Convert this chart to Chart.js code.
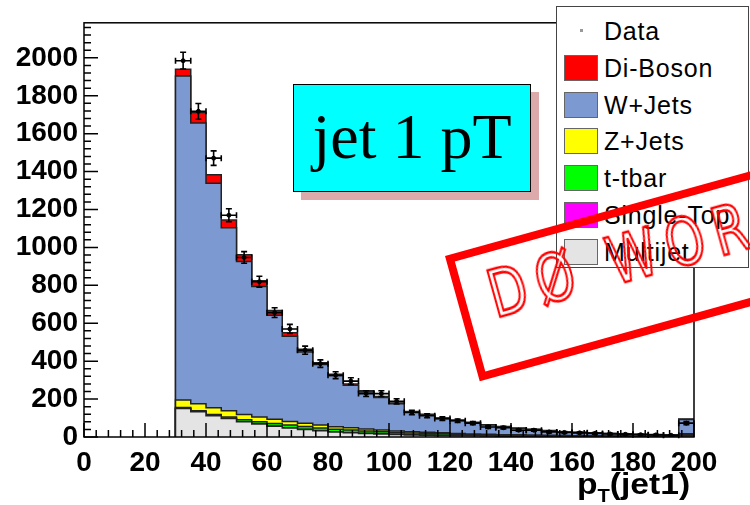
<!DOCTYPE html>
<html>
<head>
<meta charset="utf-8">
<script src="https://cdn.jsdelivr.net/npm/chart.js@4.4.1/dist/chart.umd.min.js"></script>
<style>
    html, body { margin: 0; padding: 0; background: #fff; }
    #wrap { position: relative; width: 750px; height: 505px; overflow: hidden; font-family: "Liberation Sans", Arial, sans-serif; }
    #ptChart { position: absolute; left: 0; top: 0; }
    #titleShadow { position: absolute; left: 301px; top: 92px; width: 238px; height: 108px; background: #dcaaaa; }
    #titleBox { position: absolute; left: 293px; top: 84px; width: 238px; height: 108px; box-sizing: border-box;
        background: #00ffff; border: 1px solid #000; font-family: "Liberation Serif", "Times New Roman", serif;
        font-size: 64px; line-height: 104px; text-align: center; color: #000; }
    #legend { position: absolute; left: 556px; top: 6px; width: 193px; height: 262px; box-sizing: border-box;
        background: #fff; border: 1px solid #444; }
    .row { position: absolute; left: 0; height: 28px; width: 100%; }
    .swatch { position: absolute; left: 7px; top: 1px; width: 34px; height: 26px; box-sizing: border-box; border: 1px solid #666; }
    .dot { position: absolute; left: 23px; top: 12px; width: 3px; height: 3px; background: #999; }
    .name { position: absolute; left: 47px; top: 0; font-size: 25px; line-height: 28px; color: #000; letter-spacing: 0.8px; }
    #xTitle { position: absolute; left: 577px; top: 467px; font-size: 30px; font-weight: bold; color: #000; white-space: nowrap;
        transform-origin: 0 0; transform: scaleX(1.12); }
    #xTitle sub { font-size: 18px; vertical-align: -8px; }
    #stamp { position: absolute; left: 445px; top: 256px; width: 430px; height: 130px; box-sizing: border-box;
        border: 8px solid #f00; transform-origin: 0 0; transform: rotate(-15.5deg); }
    #stamp span { position: absolute; left: 24px; top: 14px; font-family: "DejaVu Sans", sans-serif; font-size: 50px;
        color: transparent; -webkit-text-stroke: 2px #f00; letter-spacing: 10px; white-space: nowrap;
        transform-origin: 0 50%; transform: scaleY(1.3); }
</style>
</head>
<body>
<div id="wrap">
    <canvas id="ptChart" width="750" height="505"></canvas>
    <div id="titleShadow"></div>
    <div id="titleBox">jet 1 pT</div>
    <div id="legend"></div>
    <div id="xTitle">p<sub>T</sub>(jet1)</div>
    <div id="stamp"><span>DØ WORK</span></div>
</div>
<script>
// Lower edges of the 5 GeV bins; the last bin holds the overflow
const binLow = [30, 35, 40, 45, 50, 55, 60, 65, 70, 75, 80, 85, 90, 95, 100, 105, 110, 115,
                120, 125, 130, 135, 140, 145, 150, 155, 160, 165, 170, 175, 180, 185, 190, 195];
const binWidth = 5;

// Expected events per bin, one array per background
const multijet  = [150, 133, 112, 97, 80, 68, 57, 48, 40, 33, 27, 23, 19, 16, 13, 11, 9, 8,
                   7, 6, 5, 4, 4, 3, 3, 3, 2, 2, 2, 2, 1, 1, 1, 5];
const singleTop = [1, 1, 1, 1, 1, 1, 1, 1, 1, 1, 1, 1, 1, 1, 1, 1, 1, 1,
                   0, 0, 0, 0, 0, 0, 0, 0, 0, 0, 0, 0, 0, 0, 0, 1];
const ttbar     = [4, 5, 6, 8, 10, 12, 13, 14, 14, 14, 13, 13, 12, 11, 10, 9, 9, 8,
                   7, 6, 6, 5, 5, 4, 4, 3, 3, 3, 2, 2, 2, 2, 1, 8];
const zJets     = [40, 37, 35, 32, 28, 25, 22, 19, 17, 15, 13, 12, 10, 9, 8, 7, 6, 5,
                   5, 4, 4, 3, 3, 3, 2, 2, 2, 2, 1, 1, 1, 1, 1, 3];
const wJets     = [1709, 1481, 1184, 966, 807, 688, 549, 450, 376, 319, 269, 224, 196, 172, 143, 103, 91, 75,
                   68, 59, 48, 42, 33, 29, 24, 18, 17, 14, 13, 11, 10, 8, 7, 75];
const diBoson   = [36, 55, 46, 41, 36, 30, 25, 18, 15, 10, 8, 7, 6, 5, 5, 4, 4, 3,
                   3, 3, 2, 2, 2, 2, 1, 1, 1, 1, 1, 1, 1, 1, 1, 3];

// Observed events per bin
const dataCounts = [1985, 1718, 1471, 1170, 947, 819, 656, 570, 458, 387, 326, 295, 229, 229, 188, 129, 112, 97,
                    86, 73, 53, 49, 36, 36, 27, 24, 22, 19, 16, 14, 12, 11, 9, 73];

const yTicks = [0, 200, 400, 600, 800, 1000, 1200, 1400, 1600, 1800, 2000];

// Stack order, bottom to top
const layers = [
    { name: 'Multijet',   color: '#e4e4e4', values: multijet },
    { name: 'Single-Top', color: '#ff00ff', values: singleTop },
    { name: 't-tbar',     color: '#00ff00', values: ttbar },
    { name: 'Z+Jets',     color: '#ffff00', values: zJets },
    { name: 'W+Jets',     color: '#7d99d1', values: wJets },
    { name: 'Di-Boson',   color: '#ff0000', values: diBoson }
];

const FONT = "'Liberation Sans', Arial, sans-serif";

// Histogram outline: bin edges joined with horizontal-first steps
function stepPoints(vals) {
    const last = binLow.length - 1;
    const pts = [{ x: binLow[0], y: 0 }];
    vals.forEach((v, i) => pts.push({ x: binLow[i], y: v }));
    pts.push({ x: binLow[last] + binWidth, y: vals[last] });
    pts.push({ x: binLow[last] + binWidth, y: 0 });
    return pts;
}

const datasets = [];
let running = binLow.map(() => 0);
layers.forEach((layer, k) => {
    running = running.map((s, i) => s + layer.values[i]);
    datasets.push({
        label: layer.name,
        data: stepPoints(running),
        stepped: 'before',
        fill: 'origin',
        backgroundColor: layer.color,
        borderColor: '#222',
        borderWidth: 1.5,
        pointRadius: 0,
        order: k + 1
    });
});

datasets.push({
    label: 'Data',
    data: dataCounts.map((n, i) => ({ x: binLow[i] + binWidth / 2, y: n })),
    showLine: false,
    pointRadius: 2,
    pointBackgroundColor: '#000',
    pointBorderColor: '#000',
    order: 0
});

// Poisson error bars with small end caps
const errorBars = {
    id: 'errorBars',
    afterDatasetsDraw(chart) {
        const { ctx, scales: { x, y } } = chart;
        ctx.save();
        ctx.strokeStyle = '#000';
        ctx.lineWidth = 1.6;
        dataCounts.forEach((n, i) => {
            const lo = x.getPixelForValue(binLow[i]);
            const hi = x.getPixelForValue(binLow[i] + binWidth);
            const cx = (lo + hi) / 2;
            const cy = y.getPixelForValue(n);
            const err = Math.sqrt(n);
            const top = y.getPixelForValue(n + err);
            const bot = y.getPixelForValue(n - err);
            ctx.beginPath();
            ctx.moveTo(lo, cy); ctx.lineTo(hi, cy);
            ctx.moveTo(cx, top); ctx.lineTo(cx, bot);
            ctx.moveTo(lo, cy - 3); ctx.lineTo(lo, cy + 3);
            ctx.moveTo(hi, cy - 3); ctx.lineTo(hi, cy + 3);
            ctx.moveTo(cx - 3, top); ctx.lineTo(cx + 3, top);
            ctx.moveTo(cx - 3, bot); ctx.lineTo(cx + 3, bot);
            ctx.stroke();
        });
        ctx.restore();
    }
};

// Frame box and inward tick marks
const frameTicks = {
    id: 'frameTicks',
    afterDraw(chart) {
        const { ctx, chartArea: a, scales: { x, y } } = chart;
        ctx.save();
        ctx.strokeStyle = '#000';
        ctx.lineWidth = 1.5;
        ctx.beginPath();
        for (let v = 0; v <= x.max; v += 4) {
            const px = x.getPixelForValue(v);
            ctx.moveTo(px, a.bottom);
            ctx.lineTo(px, a.bottom - (v % 20 === 0 ? 14 : 7));
        }
        for (let v = 0; v <= y.max; v += 40) {
            const py = y.getPixelForValue(v);
            ctx.moveTo(a.left, py);
            ctx.lineTo(a.left + (v % 200 === 0 ? 14 : 7), py);
        }
        ctx.stroke();
        ctx.strokeRect(a.left, a.top, a.right - a.left, a.bottom - a.top);
        ctx.restore();
    }
};

new Chart(document.getElementById('ptChart'), {
    type: 'line',
    data: { datasets },
    options: {
        responsive: false,
        animation: false,
        devicePixelRatio: 1,
        layout: { padding: { top: 8, right: 56, left: 0, bottom: 0 } },
        plugins: { legend: { display: false }, tooltip: { enabled: false } },
        scales: {
            x: {
                type: 'linear',
                min: 0,
                max: 200,
                grid: { display: false, drawTicks: false },
                border: { display: false },
                ticks: { stepSize: 20, color: '#000', padding: 9, maxRotation: 0, autoSkip: false,
                         font: { family: FONT, size: 28, weight: 'bold' },
                         callback: v => String(v) },
                afterFit: s => { s.height = 68; }
            },
            y: {
                min: 0,
                max: 2185,
                grid: { display: false, drawTicks: false },
                border: { display: false },
                ticks: { color: '#000', padding: 6,
                         font: { family: FONT, size: 28, weight: 'bold' },
                         callback: v => String(v) },
                afterBuildTicks: s => { s.ticks = yTicks.map(v => ({ value: v })); },
                afterFit: s => { s.width = 84; }
            }
        }
    },
    plugins: [errorBars, frameTicks]
});

// Legend: data marker first, then the stack from top to bottom
const legend = document.getElementById('legend');
const entries = [{ name: 'Data', color: null }].concat(layers.slice().reverse());
entries.forEach((e, i) => {
    const row = document.createElement('div');
    row.className = 'row';
    row.style.top = (10 + i * 36.8) + 'px';
    const mark = document.createElement('div');
    if (e.color) {
        mark.className = 'swatch';
        mark.style.background = e.color;
    } else {
        mark.className = 'dot';
    }
    const label = document.createElement('div');
    label.className = 'name';
    label.textContent = e.name;
    row.appendChild(mark);
    row.appendChild(label);
    legend.appendChild(row);
});
</script>
</body>
</html>
